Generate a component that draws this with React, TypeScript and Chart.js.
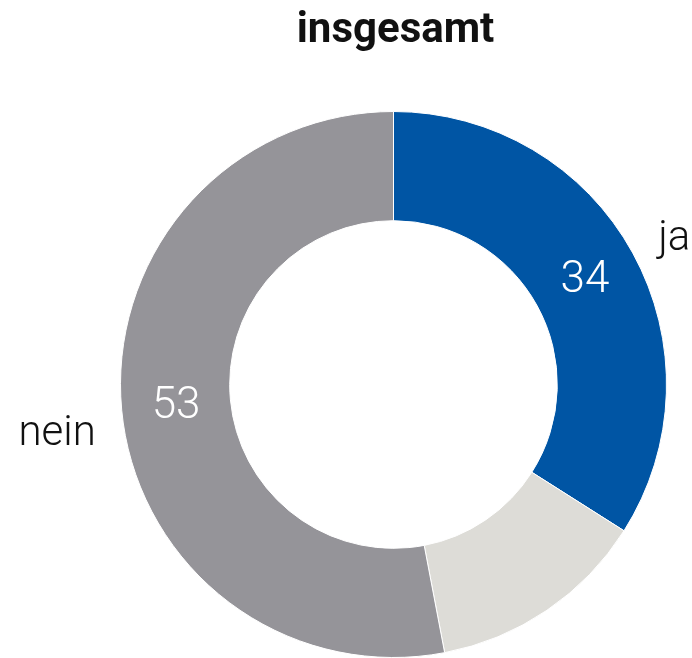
import React, { useEffect, useRef } from "react";
import { Chart, registerables } from "chart.js";

Chart.register(...registerables);

const TITLE = "insgesamt";
const categories = ["ja", "keine Angabe", "nein"];
const values = [34, 13, 53];
const outerLabels = ["ja", "", "nein"];
const valueLabels = ["34", "", "53"];
const colors = ["#0055A4", "#DDDCD7", "#959499"];

const W = 692;
const H = 658;

const labelPlugin = {
  id: "donutLabels",
  afterDraw(chart: any) {
    const ctx = chart.ctx;
    const meta = chart.getDatasetMeta(0);
    ctx.save();
    // title
    ctx.fillStyle = "#111111";
    ctx.font = "700 42px Roboto";
    ctx.textAlign = "center";
    ctx.textBaseline = "alphabetic";
    ctx.fillText(TITLE, 395.5, 42);

    meta.data.forEach((arc: any, i: number) => {
      const p = arc.getProps(["x", "y", "startAngle", "endAngle", "innerRadius", "outerRadius"], true);
      const mid = (p.startAngle + p.endAngle) / 2;
      if (valueLabels[i]) {
        const r = (p.innerRadius + p.outerRadius) / 2;
        ctx.fillStyle = "#ffffff";
        ctx.font = "300 44px Roboto";
        ctx.textAlign = "center";
        ctx.textBaseline = "middle";
        ctx.fillText(valueLabels[i], p.x + Math.cos(mid) * r, p.y + Math.sin(mid) * r + 2);
      }
      if (outerLabels[i]) {
        const r = p.outerRadius + 29;
        const x = p.x + Math.cos(mid) * r;
        let y = p.y + Math.sin(mid) * r;
        const right = Math.cos(mid) >= 0;
        if (!right) y += 22;
        ctx.fillStyle = "#111111";
        ctx.font = "300 42px Roboto";
        ctx.textAlign = right ? "left" : "right";
        ctx.textBaseline = "middle";
        ctx.fillText(outerLabels[i], right ? x : x + 3, y);
      }
    });
    ctx.restore();
  },
};

export default function App() {
  const ref = useRef<HTMLCanvasElement | null>(null);
  useEffect(() => {
    if (!ref.current) return;
    const chart = new Chart(ref.current, {
      type: "doughnut",
      data: {
        labels: categories,
        datasets: [
          {
            data: values,
            backgroundColor: colors,
            borderColor: "#ffffff",
            borderWidth: 1,
            hoverOffset: 0,
          },
        ],
      },
      options: {
        responsive: false,
        animation: false,
        radius: 273,
        cutout: "60%",
        layout: { padding: { left: 100, right: 5, top: 115, bottom: 4 } },
        plugins: {
          legend: { display: false },
          tooltip: { enabled: false },
          title: { display: false },
        },
      } as any,
      plugins: [labelPlugin],
    });
    return () => chart.destroy();
  }, []);
  return (
    <div style={{ position: "fixed", left: 0, top: 0, width: W, height: H, background: "#fff", overflow: "hidden" }}>
      <canvas ref={ref} width={W} height={H} style={{ width: W, height: H, display: "block" }} />
    </div>
  );
}
